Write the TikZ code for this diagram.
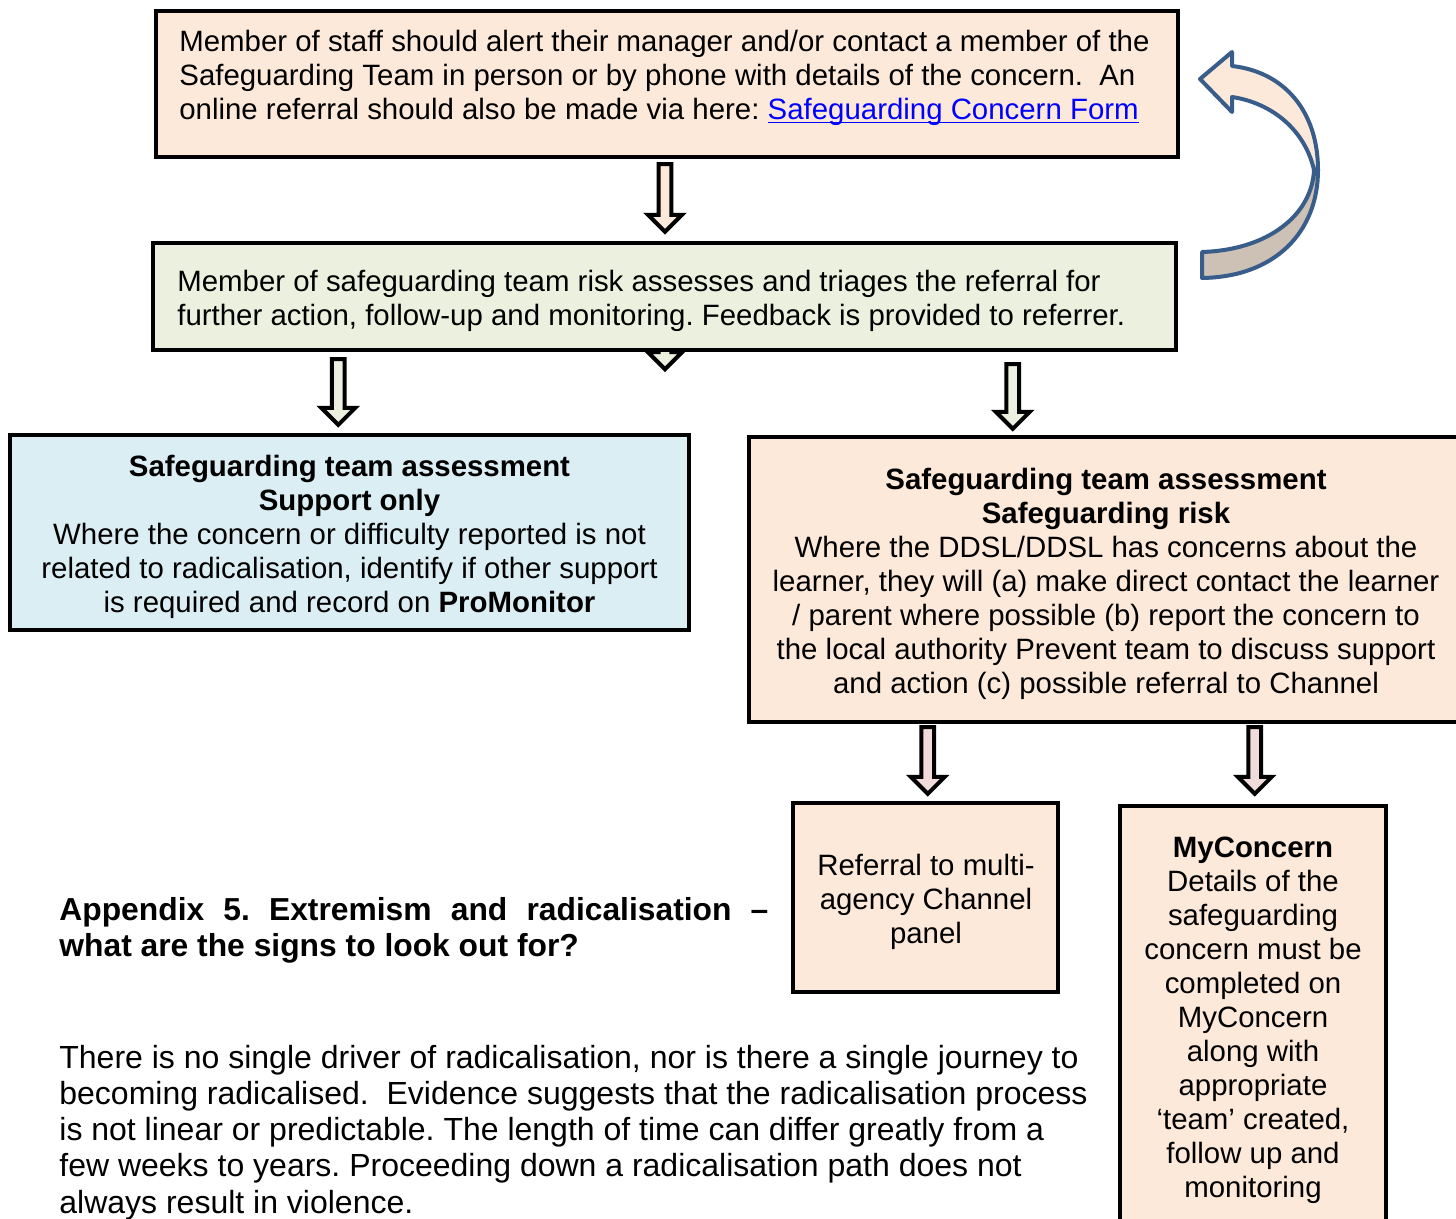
\documentclass[tikz,border=0pt]{standalone}
\usepackage{fontspec}
\setmainfont{Liberation Sans}
\usetikzlibrary{calc,backgrounds}
\definecolor{peach}{HTML}{FDE9D9}
\definecolor{paleGreen}{HTML}{EBF1DE}
\definecolor{paleBlue}{HTML}{DBEEF3}
\definecolor{palePink}{HTML}{F2DCDB}
\definecolor{tan}{HTML}{CDC0B4}
\definecolor{navy}{HTML}{385D8A}
\definecolor{linkblue}{HTML}{0000FF}
\frenchspacing
\tikzset{
  box/.style={draw=black, line width=2.2pt, rectangle, inner sep=0pt},
  txt/.style={inner sep=0pt, font={\fontsize{14.7}{17}\selectfont}},
  barrow/.style={draw=black, line width=2pt, line join=miter},
  uturn/.style={draw=navy, line width=2pt, line join=round},
}
\newcommand{\blockarrow}[3]{%
  \draw[barrow,fill=#1] let \p1=(#2), \p2=(#3) in
  (\x1-3.2pt,\y1) -- (\x1-3.2pt,\y2+8.5pt) -- (\x1-8.5pt,\y2+8.5pt) -- (\x1,\y2)
  -- (\x1+8.5pt,\y2+8.5pt) -- (\x1+3.2pt,\y2+8.5pt) -- (\x1+3.2pt,\y1) -- cycle;}
\newcommand{\linkul}[1]{\underline{\smash{#1}}}
\begin{document}
\begin{tikzpicture}[x=0.5pt,y=-0.5pt]
\useasboundingbox (0,0) rectangle (1456,1219);
\clip (0,0) rectangle (1456,1219);
\begin{pgfonlayer}{background}
\fill[white] (0,0) rectangle (1456,1219);
\end{pgfonlayer}

% boxes
\node[box, fill=peach, minimum width=511pt, minimum height=73pt] (b1) at (667,84) {};
\node[box, fill=paleGreen, minimum width=511.5pt, minimum height=53.5pt] (b2) at (664.5,296.5) {};
\node[box, fill=paleBlue, minimum width=339.5pt, minimum height=97.5pt] (b3) at (349.5,532.5) {};
\node[box, fill=peach, minimum width=360.5pt, minimum height=142.5pt] (b4) at (1109.5,579.5) {};
\node[box, fill=peach, minimum width=132.5pt, minimum height=94.5pt] (b5) at (925.5,897.5) {};
\node[box, fill=peach, minimum width=133pt, minimum height=217pt] (b6) at (1253,1023) {};

% arrow hidden behind box 2
\begin{pgfonlayer}{background}
\blockarrow{paleGreen}{$(b2.center)+(0.5,0)$}{$(b2.south)+(0.5,17)$}
\end{pgfonlayer}

% block arrows
\blockarrow{peach}{$(b1.south)+(-2,5)$}{$(b2.north)+(0.5,-9)$}
\blockarrow{paleGreen}{$(b2.south west)+(187.5,7)$}{$(b3.north)+(-9,-8)$}
\blockarrow{paleGreen}{$(b2.south west)+(862,12)$}{$(b4.north west)+(266,-6)$}
\blockarrow{palePink}{$(b4.south west)+(181,3)$}{$(b5.north)+(4.5,-7)$}
\blockarrow{palePink}{$(b4.south west)+(508,3)$}{$(b6.north)+(4,-10)$}

% texts
\node[txt, anchor=west, align=left] (t1) at (179,77) {Member of staff should alert their manager and/or contact a member of the\\
Safeguarding Team in person or by phone with details of the concern.\ \ An\\
online referral should also be made via here: \textcolor{linkblue}{\linkul{Safeguarding Concern Form}}};

\node[txt, anchor=west, align=left] (t2) at (177,300.5) {Member of safeguarding team risk assesses and triages the referral for\\
further action, follow-up and monitoring. Feedback is provided to referrer.};

\node[txt, align=center] (t3) at (349.5,536.5) {\textbf{Safeguarding team assessment}\\
\textbf{Support only}\\
Where the concern or difficulty reported is not\\
related to radicalisation, identify if other support\\
is required and record on \textbf{ProMonitor}};

\node[txt, align=center] (t4) at (1106,584) {\textbf{Safeguarding team assessment}\\
\textbf{Safeguarding risk}\\
Where the DDSL/DDSL has concerns about the\\
learner, they will (a) make direct contact the learner\\
/ parent where possible (b) report the concern to\\
the local authority Prevent team to discuss support\\
and action (c) possible referral to Channel};

\node[txt, align=center] (t5) at (926,902) {Referral to multi-\\agency Channel\\panel};

\node[txt, align=center] (t6) at (1253,1020) {\textbf{MyConcern}\\
Details of the\\
safeguarding\\
concern must be\\
completed on\\
MyConcern\\
along with\\
appropriate\\
‘team’ created,\\
follow up and\\
monitoring};

\node[inner sep=0pt, anchor=west, text width=354.5pt, align=justify,
  font={\fontsize{15.9}{18}\selectfont\bfseries}] (app) at (59,930)
  {Appendix 5. Extremism and radicalisation –\linebreak what are the signs to look out for?};

\node[inner sep=0pt, anchor=west, align=left, font={\fontsize{16}{18.1}\selectfont}] (para) at (59,1132.5)
  {There is no single driver of radicalisation, nor is there a single journey to\\
becoming radicalised.\ \ Evidence suggests that the radicalisation process\\
is not linear or predictable. The length of time can differ greatly from a\\
few weeks to years. Proceeding down a radicalisation path does not\\
always result in violence.};

% U-turn arrow from box 2 back to box 1
\draw[uturn, fill=tan] (1202,252) .. controls (1268,250) and (1312,215) .. (1314,170)
  -- (1318,170) .. controls (1318,232) and (1275,277) .. (1202,278) -- cycle;
\draw[uturn, fill=peach] (1318,170) .. controls (1318,112) and (1285,72) .. (1232,66)
  -- (1232,52) -- (1200,79) -- (1232,112) -- (1232,97)
  .. controls (1272,103) and (1305,130) .. (1314,170) -- cycle;
\end{tikzpicture}
\end{document}
